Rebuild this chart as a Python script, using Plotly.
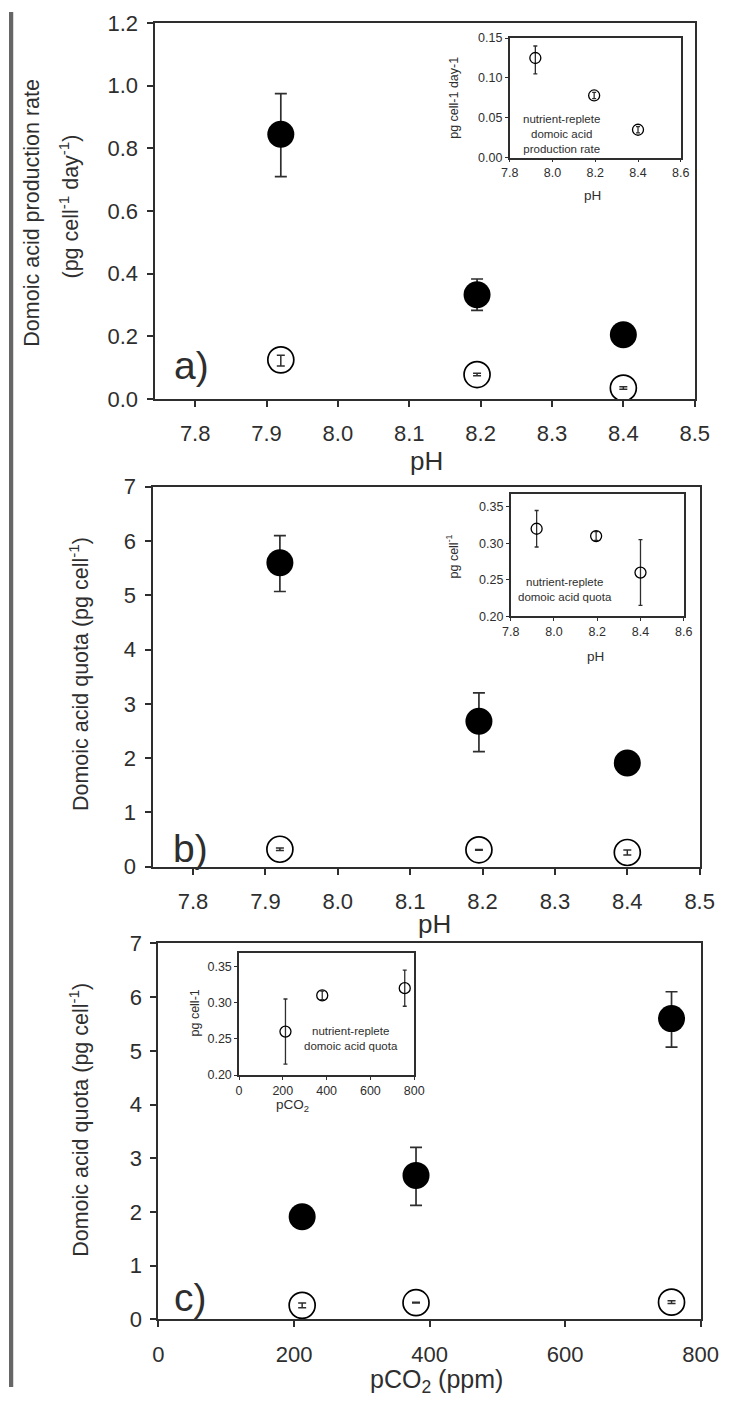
import plotly.graph_objects as go

# Map target-picture pixel positions to figure fractions (compensates the page offset/scale seen in the render)
SX, SY, AY, OFF = 0.968, 0.985, 3.0, 8.0
W, H = 730, 1400
def fx(t): return t / SX - OFF
def fy(t): return (t - AY) / SY - OFF
def px(x): return fx(x) / W
def py(y): return 1 - fy(y) / H

# ---------------- data ----------------
ph = [7.92, 8.195, 8.40]
pco2 = [212, 380, 757]

# panel a: domoic acid production rate (pg cell-1 day-1)
rate_limited = [0.845, 0.333, 0.205]
rate_limited_up = [0.13, 0.05, 0.02]
rate_limited_dn = [0.135, 0.05, 0.02]
rate_replete = [0.125, 0.078, 0.035]
rate_replete_up = [0.015, 0.004, 0.004]
rate_replete_dn = [0.02, 0.004, 0.004]

# panel b: domoic acid quota vs pH (pg cell-1)
quota_limited_ph = [5.6, 2.68, 1.91]
quota_limited_ph_up = [0.5, 0.52, 0.1]
quota_limited_ph_dn = [0.53, 0.56, 0.1]
quota_replete_ph = [0.32, 0.31, 0.26]
quota_replete_ph_up = [0.025, 0.006, 0.045]
quota_replete_ph_dn = [0.025, 0.006, 0.045]

# panel c: domoic acid quota vs pCO2 (pg cell-1)
quota_limited_co2 = [1.91, 2.68, 5.6]
quota_limited_co2_up = [0.1, 0.52, 0.5]
quota_limited_co2_dn = [0.1, 0.56, 0.53]
quota_replete_co2 = [0.26, 0.31, 0.32]
quota_replete_co2_up = [0.045, 0.006, 0.025]
quota_replete_co2_dn = [0.045, 0.006, 0.025]

ph_ticks = [7.8, 7.9, 8.0, 8.1, 8.2, 8.3, 8.4, 8.5]
ph_inset_ticks = [7.8, 8.0, 8.2, 8.4, 8.6]
co2_ticks = [0, 200, 400, 600, 800]
co2_inset_ticks = [0, 200, 400, 600, 800]

FONT = "Liberation Sans, Arial, sans-serif"
INK = "#2e2e2e"

fig = go.Figure()

def filled(x, y, up, dn, xa, ya):
    fig.add_trace(go.Scatter(
        x=x, y=y, mode="markers", xaxis=xa, yaxis=ya, showlegend=False,
        marker=dict(symbol="circle", size=27, color="black"),
        error_y=dict(type="data", array=up, arrayminus=dn, symmetric=False,
                     color=INK, thickness=1.7, width=6)))

def hollow(x, y, up, dn, xa, ya, size=26, lw=1.7, cap=4, th=1.5):
    fig.add_trace(go.Scatter(
        x=x, y=y, mode="markers", xaxis=xa, yaxis=ya, showlegend=False,
        marker=dict(symbol="circle-open", size=size, color="black",
                    line=dict(width=lw, color="black")),
        error_y=dict(type="data", array=up, arrayminus=dn, symmetric=False,
                     color=INK, thickness=th, width=cap)))

# panel a
filled(ph, rate_limited, rate_limited_up, rate_limited_dn, "x", "y")
hollow(ph, rate_replete, rate_replete_up, rate_replete_dn, "x", "y")
# inset a
hollow(ph, rate_replete, rate_replete_up, rate_replete_dn, "x2", "y2", size=11, lw=1.3, cap=2, th=1.3)
# panel b
filled(ph, quota_limited_ph, quota_limited_ph_up, quota_limited_ph_dn, "x3", "y3")
hollow(ph, quota_replete_ph, quota_replete_ph_up, quota_replete_ph_dn, "x3", "y3")
# inset b
hollow(ph, quota_replete_ph, quota_replete_ph_up, quota_replete_ph_dn, "x4", "y4", size=11, lw=1.3, cap=2, th=1.3)
# panel c
filled(pco2, quota_limited_co2, quota_limited_co2_up, quota_limited_co2_dn, "x5", "y5")
hollow(pco2, quota_replete_co2, quota_replete_co2_up, quota_replete_co2_dn, "x5", "y5")
# inset c
hollow(pco2, quota_replete_co2, quota_replete_co2_up, quota_replete_co2_dn, "x6", "y6", size=11, lw=1.3, cap=2, th=1.3)

def main_ax(domain, rng, ticks, fmt, anchor, xaxis=True):
    d = dict(domain=domain, range=rng, tickvals=ticks, tickformat=fmt,
             showline=True, linecolor=INK, linewidth=2, mirror=True,
             ticks="outside", ticklen=6, tickwidth=1.5, tickcolor=INK,
             showgrid=False, zeroline=False, anchor=anchor,
             tickfont=dict(family=FONT, size=22, color=INK))
    d["ticklabelstandoff"] = 8 if xaxis else 4
    return d

def inset_ax(domain, rng, ticks, fmt, anchor, xaxis=True):
    d = dict(domain=domain, range=rng, tickvals=ticks, tickformat=fmt,
             showline=True, linecolor=INK, linewidth=1.5, mirror=True,
             ticks="outside", ticklen=3, tickwidth=1, tickcolor=INK,
             showgrid=False, zeroline=False, anchor=anchor,
             tickfont=dict(family=FONT, size=12.5, color=INK))
    return d

fig.update_layout(
    width=W, height=H, margin=dict(l=0, r=0, t=0, b=0),
    paper_bgcolor="white", plot_bgcolor="white", showlegend=False,
    font=dict(family=FONT, color=INK),
    # panel a
    xaxis=main_ax([px(154), px(697)], [7.743, 8.5], ph_ticks, ".1f", "y"),
    yaxis=main_ax([py(399), py(22)], [0, 1.2], [0, 0.2, 0.4, 0.6, 0.8, 1.0, 1.2], ".1f", "x", False),
    # inset a
    xaxis2=inset_ax([px(511), px(683)], [7.8, 8.6], ph_inset_ticks, ".1f", "y2"),
    yaxis2=inset_ax([py(157), py(37)], [0, 0.15], [0, 0.05, 0.10, 0.15], ".2f", "x2", False),
    # panel b
    xaxis3=main_ax([px(152), px(702)], [7.744, 8.5], ph_ticks, ".1f", "y3"),
    yaxis3=main_ax([py(868), py(487)], [0, 7], [0, 1, 2, 3, 4, 5, 6, 7], "d", "x3", False),
    # inset b
    xaxis4=inset_ax([px(512), px(686)], [7.8, 8.6], ph_inset_ticks, ".1f", "y4"),
    yaxis4=inset_ax([py(617), py(494)], [0.2, 0.368], [0.20, 0.25, 0.30, 0.35], ".2f", "x4", False),
    # panel c
    xaxis5=main_ax([px(158), px(703)], [0, 800], co2_ticks, "d", "y5"),
    yaxis5=main_ax([py(1322), py(945)], [0, 7], [0, 1, 2, 3, 4, 5, 6, 7], "d", "x5", False),
    # inset c
    xaxis6=inset_ax([px(239), px(415)], [0, 800], co2_inset_ticks, "d", "y6"),
    yaxis6=inset_ax([py(1077), py(955)], [0.2, 0.368], [0.20, 0.25, 0.30, 0.35], ".2f", "x6", False),
)

ann = []
def txt(x, y, t, size, angle=0, xanchor="center", yanchor="middle"):
    ann.append(dict(x=px(x), y=py(y), xref="paper", yref="paper", text=t,
                    showarrow=False, textangle=angle, xanchor=xanchor, yanchor=yanchor,
                    font=dict(family=FONT, size=size, color=INK)))

# main axis titles
txt(30, 212, "Domoic acid production rate", 21.5, -90)
txt(68, 206, "(pg cell<sup>-1</sup> day<sup>-1</sup>)", 21.5, -90)
txt(78, 675, "Domoic acid quota (pg cell<sup>-1</sup>)", 21.5, -90)
txt(78, 1122, "Domoic acid quota (pg cell<sup>-1</sup>)", 21.5, -90)
txt(427, 461, "pH", 26)
txt(435, 926, "pH", 26)
txt(437, 1384, "pCO<sub>2</sub> (ppm)", 25)

# panel labels
txt(191, 365, "a)", 39)
txt(190, 850, "b)", 39)
txt(190, 1300, "c)", 39)

# inset titles
txt(455, 97, "pg cell-1 day-1", 12.5, -90)
txt(594, 195, "pH", 13.5)
txt(453, 557, "pg cell<sup>-1</sup>", 12.5, -90)
txt(597, 657, "pH", 13.5)
txt(195, 1015, "pg cell-1", 12.5, -90)
txt(293, 1108, "pCO<sub>2</sub>", 13.5)

# inset notes
txt(563, 133, "nutrient-replete<br>domoic acid<br>production rate", 11.5)
txt(567, 590, "nutrient-replete<br>domoic acid quota", 11.5)
txt(352, 1040, "nutrient-replete<br>domoic acid quota", 11.5)

fig.update_layout(annotations=ann)

# left grey strip (partly hidden by the page margin)
fig.add_shape(type="rect", xref="paper", yref="paper", x0=0, x1=max(px(12), 0.004), y0=0, y1=1,
              fillcolor="#666666", line=dict(width=0), layer="above")

fig.write_html("out.html")
